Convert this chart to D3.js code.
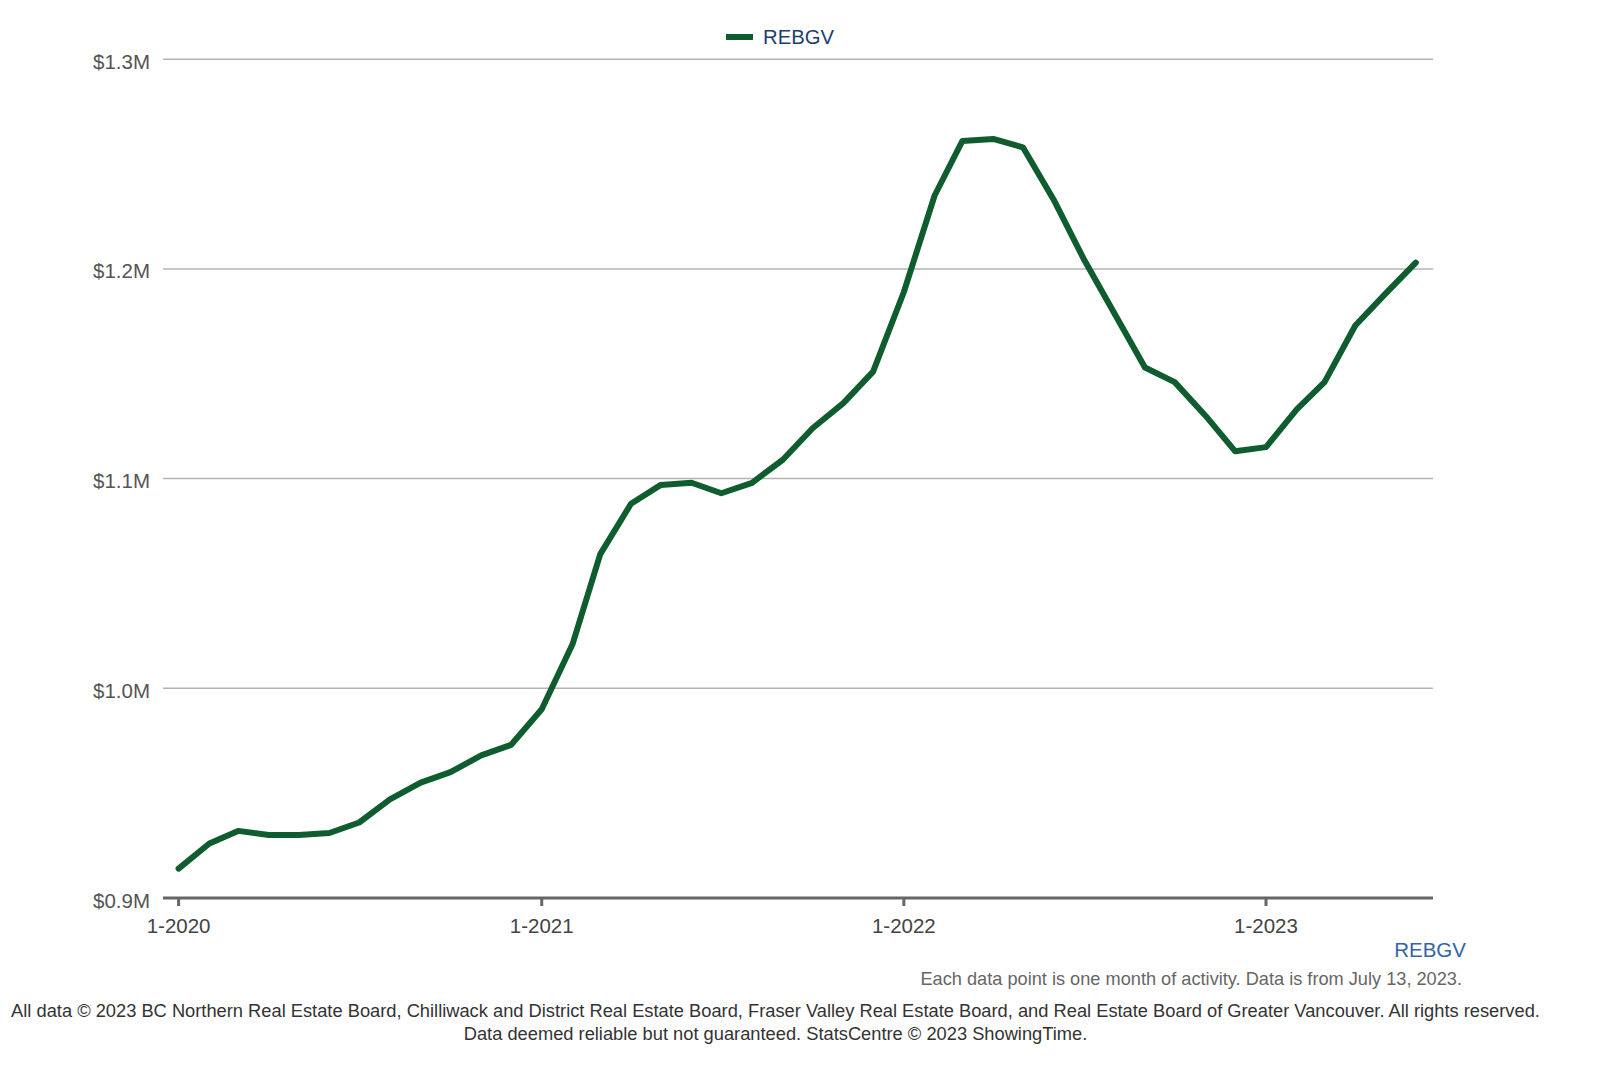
<!DOCTYPE html>
<html><head><meta charset="utf-8">
<script src="https://cdn.jsdelivr.net/npm/d3@7"></script>
<style>body{margin:0;background:#fff;}svg{display:block;font-family:"Liberation Sans",Arial,Helvetica,sans-serif;}</style>
</head><body>
<svg id="c" width="1600" height="1066"></svg>
<script>
const seriesName = "REBGV";
const months = d3.range(42).map(i => new Date(2020, i, 1));
const values = [0.914,0.926,0.932,0.930,0.930,0.931,0.936,0.947,0.955,0.960,0.968,0.973,
0.990,1.021,1.064,1.088,1.097,1.098,1.093,1.098,1.109,1.124,1.136,1.151,
1.189,1.235,1.261,1.262,1.258,1.233,1.205,1.179,1.153,1.146,1.130,1.113,
1.115,1.133,1.146,1.173,1.188,1.203];
const yTicks = [0.9,1.0,1.1,1.2,1.3];
const xTicks = [new Date(2020,0,1), new Date(2021,0,1), new Date(2022,0,1), new Date(2023,0,1)];
const note = "Each data point is one month of activity. Data is from July 13, 2023.";
const footer = ["All data \u00A9 2023 BC Northern Real Estate Board, Chilliwack and District Real Estate Board, Fraser Valley Real Estate Board, and Real Estate Board of Greater Vancouver. All rights reserved.",
"Data deemed reliable but not guaranteed. StatsCentre \u00A9 2023 ShowingTime."];

const svg = d3.select("#c");
const x = d3.scaleTime().domain([new Date(2020,0,1), new Date(2023,0,1)]).range([178.6, 1266]);
const y = d3.scaleLinear().domain([0.9,1.3]).range([898, 59.2]);
const left = 163, right = 1433;

// gridlines
svg.append("g").selectAll("line").data(yTicks.slice(1)).join("line")
  .attr("x1", left).attr("x2", right).attr("y1", d=>y(d)).attr("y2", d=>y(d))
  .attr("stroke", "#b4b4b4").attr("stroke-width", 1.5);
// y labels
svg.append("g").selectAll("text").data(yTicks).join("text")
  .attr("x", 150).attr("y", d=>y(d)+9.5).attr("text-anchor","end")
  .attr("font-size", 20.5).attr("fill", "#555")
  .text(d => "$" + d.toFixed(1) + "M");
// baseline
svg.append("line").attr("x1", left).attr("x2", right).attr("y1", y(0.9)).attr("y2", y(0.9))
  .attr("stroke", "#666").attr("stroke-width", 3);
// x ticks
const xg = svg.append("g");
xg.selectAll("line").data(xTicks).join("line")
  .attr("x1", d=>x(d)).attr("x2", d=>x(d)).attr("y1", y(0.9)).attr("y2", y(0.9)+8)
  .attr("stroke", "#666").attr("stroke-width", 3);
xg.selectAll("text").data(xTicks).join("text")
  .attr("x", d=>x(d)).attr("y", 933).attr("text-anchor","middle")
  .attr("font-size", 20.5).attr("fill", "#444")
  .text(d => (d.getMonth()+1) + "-" + d.getFullYear());
// line
const line = d3.line().x((d,i)=>x(months[i])).y(d=>y(d)).curve(d3.curveLinear);
svg.append("path").datum(values).attr("d", line).attr("fill","none")
  .attr("stroke","#0f5d2f").attr("stroke-width",6).attr("stroke-linejoin","round").attr("stroke-linecap","round");
// legend
svg.append("line").attr("x1",726).attr("x2",753).attr("y1",37).attr("y2",37)
  .attr("stroke","#0f5d2f").attr("stroke-width",6);
svg.append("text").attr("x",763).attr("y",44).attr("font-size",20.3).attr("fill","#1d3f6e").text(seriesName);
// right label
svg.append("text").attr("x",1466).attr("y",957).attr("text-anchor","end").attr("font-size",20.5).attr("fill","#3563a3").text(seriesName);
svg.append("text").attr("x",1462).attr("y",985).attr("text-anchor","end").attr("font-size",18.2).attr("fill","#666").text(note);
svg.selectAll("text.f").data(footer).join("text").attr("class","f")
  .attr("x",775.5).attr("y",(d,i)=>1017+i*23).attr("text-anchor","middle").attr("font-size",18.3).attr("fill","#333").text(d=>d);
</script>
</body></html>
